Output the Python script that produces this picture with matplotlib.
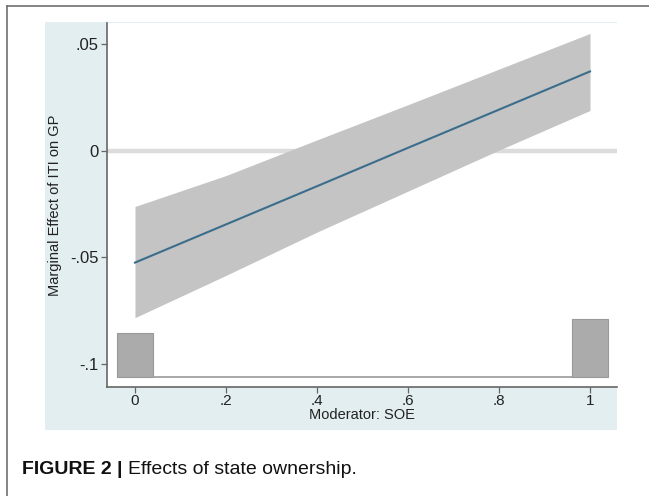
import matplotlib
matplotlib.use("Agg")
import matplotlib.pyplot as plt
from matplotlib.patches import Rectangle
from matplotlib.lines import Line2D
import numpy as np

plt.rcParams['font.family'] = ['Liberation Sans', 'DejaVu Sans']

# marginal effect of ITI on GP along SOE
soe = [0.0, 0.2, 0.4, 0.6, 0.8, 1.0]
effect = [-0.0525, -0.0346, -0.0167, 0.0013, 0.0192, 0.0371]
ci_upper = [-0.0262, -0.0117, 0.0050, 0.0215, 0.0382, 0.0549]
ci_lower = [-0.0783, -0.0585, -0.0382, -0.0190, 0.0002, 0.0188]

# distribution of the moderator (share of obs.)
hist_x = [0, 1]
hist_share = [0.43, 0.57]

yticks = [0.05, 0, -0.05, -0.1]
ytick_labels = ['.05', '0', '-.05', '-.1']
xticks = [0, 0.2, 0.4, 0.6, 0.8, 1]
xtick_labels = ['0', '.2', '.4', '.6', '.8', '1']

W, H = 649, 496
fig = plt.figure(figsize=(W / 100, H / 100), dpi=100)
fig.patch.set_facecolor('white')

# stata-style graph region
fig.patches.append(Rectangle((45 / W, 1 - 430 / H), 572 / W, 408 / H,
                             transform=fig.transFigure, facecolor='#e2eef0',
                             edgecolor='none', zorder=-5))
# frame of the figure panel (left and top edges)
fig.lines.append(Line2D([7 / W, 7 / W], [0, 1 - 6 / H], transform=fig.transFigure,
                        color='#707070', lw=1.2, zorder=-4))
fig.lines.append(Line2D([7 / W, 1], [1 - 6 / H, 1 - 6 / H], transform=fig.transFigure,
                        color='#707070', lw=1.2, zorder=-4))

ax = fig.add_axes([107 / W, 1 - 387 / H, 510 / W, 364 / H])
ax.set_zorder(2)
ax.set_facecolor('white')
ax.set_xlim(-0.0615, 1.0593)
ax.set_ylim(-0.1108, 0.0598)

ax.axhline(0, color='#dcdcdc', lw=3.2, zorder=1)
ax.fill_between(soe, ci_lower, ci_upper, color='#c4c4c4', lw=0, zorder=2)
ax.plot(soe, effect, color='#3b6d8c', lw=1.5, zorder=3)

# histogram of moderator at the bottom
hist_base = -0.1061
hist_scale = 0.0272 / max(hist_share)
ax.hlines(hist_base, -0.0176, 1.0176, color='#9a9a9a', lw=1.2, zorder=2)
ax.bar(hist_x, [s * hist_scale for s in hist_share], width=0.079, bottom=hist_base,
       color='#ababab', edgecolor='#999999', lw=0.8, zorder=3)

for side in ['top', 'right']:
    ax.spines[side].set_visible(False)
for side in ['left', 'bottom']:
    ax.spines[side].set_color('#666666')
    ax.spines[side].set_linewidth(1.2)

ax.set_yticks(yticks)
ax.set_yticklabels(ytick_labels)
ax.set_xticks(xticks)
ax.set_xticklabels(xtick_labels)
ax.tick_params(axis='both', direction='out', length=4, width=0.9, color='#666666',
               labelcolor='#222222')
ax.tick_params(axis='y', labelsize=12, pad=2)
ax.tick_params(axis='x', labelsize=11, pad=1)

ax.set_ylabel('Marginal Effect of ITI on GP', fontsize=10.5, color='#222222', labelpad=6)
ax.set_xlabel('Moderator: SOE', fontsize=10.5, color='#222222', labelpad=0)

# caption: bold label, then the rest placed right after it
cap_y = 1 - 470 / H
t1 = fig.text(22 / W, cap_y, 'FIGURE 2 | ', fontsize=14, fontweight='bold',
              color='#111111', va='center', ha='left')
fig.canvas.draw()
bb = t1.get_window_extent(renderer=fig.canvas.get_renderer())
fig.text(bb.x1 / W, cap_y, 'Effects of state ownership.', fontsize=14,
         color='#111111', va='center', ha='left')

fig.savefig('out.png', dpi=100)
